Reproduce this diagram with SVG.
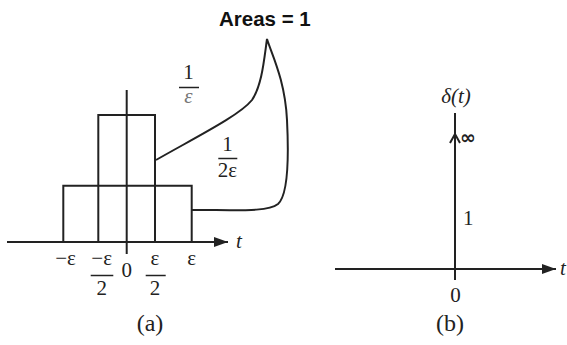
<svg xmlns="http://www.w3.org/2000/svg" width="567" height="345" viewBox="0 0 567 345">
<style>
.ln{stroke:#222;stroke-width:2;fill:none}
.s{font-family:"Liberation Serif","Times New Roman","DejaVu Serif",serif;font-size:21px;fill:#222}
.i{font-style:italic}
.b{font-family:"Liberation Sans",Arial,sans-serif;font-weight:bold;font-size:20.5px;fill:#111}
.m{text-anchor:middle}
.inf{font-family:"DejaVu Sans",sans-serif;font-weight:bold;font-size:19px;fill:#222}
.cap{font-size:24px}
</style>
<defs>
<marker id="ah" markerWidth="14" markerHeight="10" refX="14" refY="5" orient="auto" markerUnits="userSpaceOnUse">
<path d="M0,0 L14,5 L0,10 Z" fill="#222"/>
</marker>
</defs>
<g id="panel-a">
<g id="axes-a">
<line class="ln" x1="7" y1="242" x2="228" y2="242" marker-end="url(#ah)"/>
<line class="ln" x1="126.7" y1="90" x2="126.7" y2="254"/>
<text class="s i" x="236" y="248">t</text>
</g>
<g id="pulse-tall"><polyline class="ln" points="98.3,242 98.3,115 155,115 155,242"/></g>
<g id="pulse-wide"><polyline class="ln" points="63.3,242 63.3,185.7 191.7,185.7 191.7,242"/></g>
<g id="ticks">
<text class="s m" x="65.5" y="265">−ε</text>
<text class="s m" x="101.7" y="265">−ε</text>
<line class="ln" x1="90.7" y1="275.5" x2="113.3" y2="275.5" style="stroke-width:1.5"/>
<text class="s m" x="101.7" y="295">2</text>
<text class="s m" x="126.7" y="277">0</text>
<text class="s m" x="155" y="265">ε</text>
<line class="ln" x1="145.7" y1="275.5" x2="165.7" y2="275.5" style="stroke-width:1.5"/>
<text class="s m" x="155" y="295">2</text>
<text class="s m" x="191.7" y="265">ε</text>
</g>
<g id="label-1-eps">
<text class="s m" x="188.5" y="79">1</text>
<line class="ln" x1="179" y1="87.5" x2="199" y2="87.5" style="stroke-width:1.5"/>
<text class="s m i" x="188.5" y="103" style="fill:#777">ε</text>
</g>
<g id="label-1-2eps">
<text class="s m" x="227.5" y="151">1</text>
<line class="ln" x1="218.3" y1="158.5" x2="237.3" y2="158.5" style="stroke-width:1.5"/>
<text class="s m" x="227.5" y="177">2ε</text>
</g>
<g id="areas-label"><text class="b" x="219" y="26">Areas = 1</text></g>
<g id="connectors">
<path class="ln" d="M156,160 C200,135 240,115 252,100 C262,85 264,60 267,39 C272,55 285,80 287,120 C289,160 288,195 278,204 C268,212 240,210 192,210"/>
</g>
<text class="s m cap" x="150" y="331">(a)</text>
</g>
<g id="panel-b">
<g id="axes-b">
<line class="ln" x1="335" y1="269" x2="556" y2="269" marker-end="url(#ah)"/>
<line class="ln" x1="455" y1="113" x2="455" y2="280"/>
<polyline class="ln" points="450,143 455,134 460,143"/>
<text class="s i" x="560" y="275">t</text>
</g>
<g id="delta">
<text class="s m i" x="456" y="103">δ(t)</text>
<text class="inf" x="460" y="144">∞</text>
<text class="s" x="463" y="225">1</text>
<text class="s m" x="455.5" y="302">0</text>
</g>
<text class="s m cap" x="450" y="331">(b)</text>
</g>
</svg>
